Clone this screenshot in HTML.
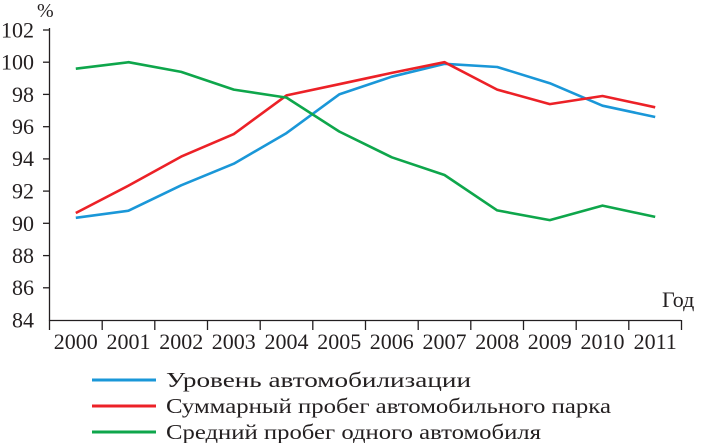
<!DOCTYPE html><html><head><style>body{margin:0;background:#fff}svg text{font-family:"Liberation Serif",serif;fill:#231f20}</style></head><body>
<svg width="702" height="443" xmlns="http://www.w3.org/2000/svg">
<g stroke="#231f20" stroke-width="1.3" fill="none">
<line x1="49.5" y1="28" x2="49.5" y2="320.5"/>
<line x1="49" y1="320.5" x2="681" y2="320.5"/>
</g>
<g stroke="#231f20" stroke-width="1.3">
<line x1="43" x2="49" y1="30" y2="30"/><line x1="43" x2="49" y1="62.2" y2="62.2"/><line x1="43" x2="49" y1="94.4" y2="94.4"/><line x1="43" x2="49" y1="126.7" y2="126.7"/><line x1="43" x2="49" y1="158.9" y2="158.9"/><line x1="43" x2="49" y1="191.1" y2="191.1"/><line x1="43" x2="49" y1="223.3" y2="223.3"/><line x1="43" x2="49" y1="255.6" y2="255.6"/><line x1="43" x2="49" y1="287.8" y2="287.8"/>
</g>
<g stroke="#231f20" stroke-width="1.3">
<line x1="49.5" x2="49.5" y1="320" y2="330"/><line x1="102.2" x2="102.2" y1="320" y2="330"/><line x1="154.8" x2="154.8" y1="320" y2="330"/><line x1="207.5" x2="207.5" y1="320" y2="330"/><line x1="260.2" x2="260.2" y1="320" y2="330"/><line x1="312.8" x2="312.8" y1="320" y2="330"/><line x1="365.5" x2="365.5" y1="320" y2="330"/><line x1="418.2" x2="418.2" y1="320" y2="330"/><line x1="470.8" x2="470.8" y1="320" y2="330"/><line x1="523.5" x2="523.5" y1="320" y2="330"/><line x1="576.2" x2="576.2" y1="320" y2="330"/><line x1="628.8" x2="628.8" y1="320" y2="330"/><line x1="681.5" x2="681.5" y1="320" y2="330"/>
</g>
<g font-size="22" text-anchor="end">
<text x="34" y="37.5">102</text><text x="34" y="69.7">100</text><text x="34" y="102">98</text><text x="34" y="134">96</text><text x="34" y="166">94</text><text x="34" y="198.5">92</text><text x="34" y="231">90</text><text x="34" y="263">88</text><text x="34" y="295">86</text><text x="34" y="327.5">84</text>
</g>
<text x="37" y="17" font-size="20">%</text>
<text x="662" y="307" font-size="22">Год</text>
<g font-size="22" text-anchor="middle">
<text x="75.8" y="349">2000</text><text x="128.5" y="349">2001</text><text x="181.2" y="349">2002</text><text x="233.8" y="349">2003</text><text x="286.5" y="349">2004</text><text x="339.2" y="349">2005</text><text x="391.8" y="349">2006</text><text x="444.5" y="349">2007</text><text x="497.2" y="349">2008</text><text x="549.8" y="349">2009</text><text x="602.5" y="349">2010</text><text x="655.2" y="349">2011</text>
</g>
<g fill="none" stroke-width="2.6" stroke-linejoin="round">
<polyline stroke="#1a97d8" points="75.8,217.8 128.5,210.7 181.2,185.3 233.8,163.7 286.5,133.1 339.2,94.4 391.8,76.7 444.5,63.8 497.2,67 549.8,83.2 602.5,105.7 655.2,117"/>
<polyline stroke="#ec2127" points="75.8,213 128.5,185.6 181.2,156.6 233.8,134.1 286.5,95.4 339.2,84.2 391.8,72.9 444.5,62.2 497.2,89.6 549.8,104.1 602.5,96 655.2,107.3"/>
<polyline stroke="#0ea64b" points="75.8,68.7 128.5,62.2 181.2,71.9 233.8,89.6 286.5,97.6 339.2,131.5 391.8,157.3 444.5,175 497.2,210.4 549.8,220.1 602.5,205.6 655.2,216.9"/>
</g>
<g stroke-width="3">
<line x1="92" x2="156" y1="380" y2="380" stroke="#1a97d8"/>
<line x1="92" x2="156" y1="406" y2="406" stroke="#ec2127"/>
<line x1="92" x2="156" y1="432" y2="432" stroke="#0ea64b"/>
</g>
<g font-size="21">
<text x="166" y="387" textLength="305" lengthAdjust="spacingAndGlyphs">Уровень автомобилизации</text>
<text x="166" y="413" textLength="445" lengthAdjust="spacingAndGlyphs">Суммарный пробег автомобильного парка</text>
<text x="166" y="439" textLength="375" lengthAdjust="spacingAndGlyphs">Средний пробег одного автомобиля</text>
</g>
</svg></body></html>
